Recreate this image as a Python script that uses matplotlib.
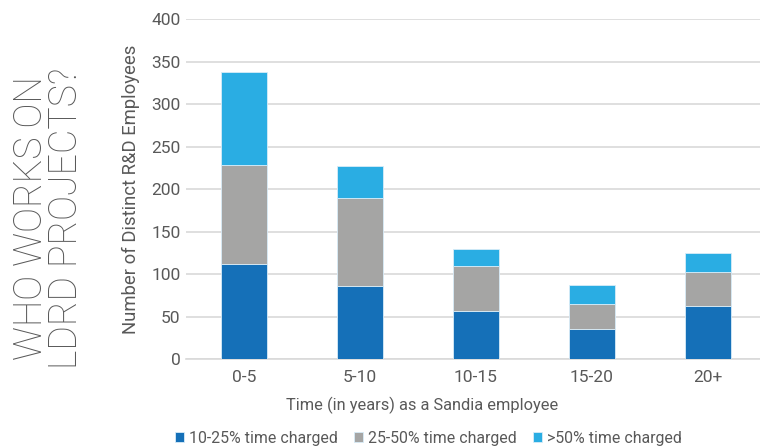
import matplotlib.pyplot as plt
import numpy as np

plt.rcParams['font.family'] = ['Roboto', 'DejaVu Sans']

# data
categories = ['0-5', '5-10', '10-15', '15-20', '20+']
low = [112, 86, 57, 35, 62]     # 10-25% time charged
mid = [117, 103, 53, 30, 41]    # 25-50% time charged
high = [109, 38, 19, 22, 22]    # >50% time charged
series_names = ['10-25% time charged', '25-50% time charged', '>50% time charged']
colors = ['#1570b8', '#a5a5a4', '#2aade3']
txt = '#595959'

fig = plt.figure(figsize=(7.6, 4.46), dpi=100)
ax = fig.add_axes([186 / 760, 87 / 446, (760 - 186) / 760, (359 - 19.3) / 446])

x = np.arange(len(categories))
bottom = np.zeros(len(categories))
for vals, name, c in zip([low, mid, high], series_names, colors):
    ax.bar(x, vals, 0.4, bottom=bottom, color=c, label=name,
           edgecolor='#d8ecf8', linewidth=0.6, zorder=3)
    bottom += np.array(vals)

ax.set_ylim(0, 400)
ax.set_xlim(-0.5, 4.45)
ax.set_yticks(range(0, 401, 50))
ax.set_xticks(x)
ax.set_xticklabels(categories)
ax.yaxis.grid(True, color='#d9d9d9', linewidth=1.2, zorder=0)
for s in ['top', 'right', 'left']:
    ax.spines[s].set_visible(False)
ax.spines['bottom'].set_color('#d9d9d9')
ax.spines['bottom'].set_linewidth(1.2)
ax.tick_params(length=0, labelsize=12.5, colors=txt)
ax.tick_params(axis='x', pad=8)
ax.tick_params(axis='y', pad=4)

ax.set_ylabel('Number of Distinct R&D Employees', fontsize=13.3, color=txt, labelpad=8)
fig.text(422 / 760, 1 - 405 / 446, 'Time (in years) as a Sandia employee',
         ha='center', va='center', fontsize=11.8, color=txt)

fig.text(49 / 760, 1 - 218 / 446, 'WHO WORKS ON\nLDRD PROJECTS?', rotation=90,
         ha='center', va='center', fontsize=27, fontweight='light',
         color=txt, linespacing=0.92)

leg = fig.legend(loc='center left', bbox_to_anchor=(175 / 760, 1 - 438 / 446),
                 ncol=3, frameon=False, fontsize=11.4, handlelength=0.55,
                 handleheight=0.55, handletextpad=0.35, columnspacing=1.0,
                 borderaxespad=0, borderpad=0)
for t in leg.get_texts():
    t.set_color(txt)

fig.savefig('out.png', dpi=100)
